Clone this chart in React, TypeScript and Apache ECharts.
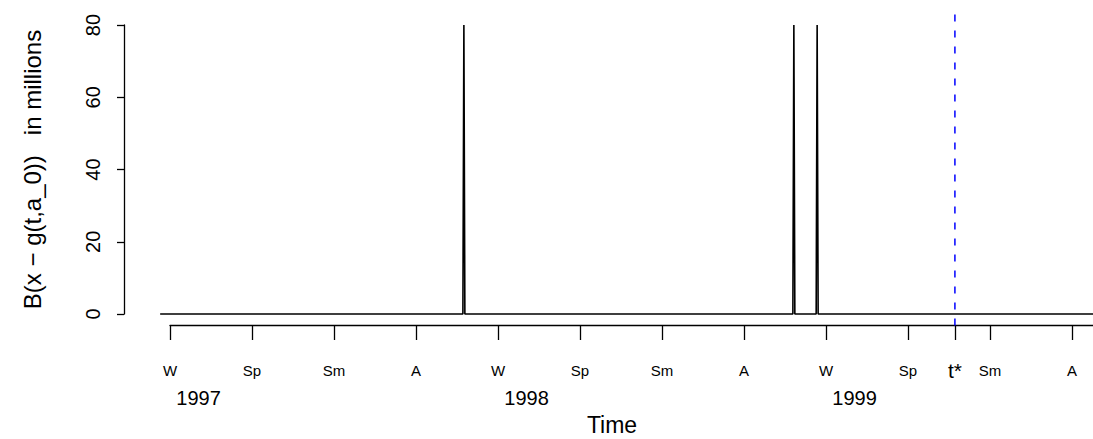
import React, { useEffect, useRef } from "react";
import * as echarts from "echarts";

// time (decimal years) and series values
const times = [1996.97, 1997.893, 1997.896, 1997.899, 1998.899, 1998.902, 1998.905, 1998.970, 1998.973, 1998.976, 1999.83];
const values = [0, 0, 80, 0, 0, 80, 0, 0, 80, 0, 0];

// season ticks
const seasonTicks = [1997, 1997.25, 1997.5, 1997.75, 1998, 1998.25, 1998.5, 1998.75, 1999, 1999.25, 1999.5, 1999.75];
const seasonLabels = ["W", "Sp", "Sm", "A", "W", "Sp", "Sm", "A", "W", "Sp", "Sm", "A"];
const tStar = 1999.393;
const yearPositions = [1997.087, 1998.087, 1999.087];
const yearLabels = ["1997", "1998", "1999"];

const yTicks = [0, 20, 40, 60, 80];
const yMin = 0;
const yMax = 80;
const plotXMin = 1996.8598;
const xMin = 1997.0;
const xMax = 1999.814;

const FONT = "Liberation Sans, Arial, sans-serif";

export default function App() {
  const ref = useRef<HTMLDivElement>(null);
  useEffect(() => {
    if (!ref.current) return;
    const chart = echarts.init(ref.current, undefined, { renderer: "svg" });
    const pad = (yMax - yMin) * 0.04;
    const tickVals = [...seasonTicks, tStar].sort((a, b) => a - b);
    const fmtTick = (v: number) => {
      if (Math.abs(v - tStar) < 1e-6) return "{big|t*}";
      const i = seasonTicks.findIndex((s) => Math.abs(s - v) < 1e-6);
      return i >= 0 ? "{s|" + seasonLabels[i] + "}" : "";
    };
    const fmtYear = (v: number) => {
      const i = yearPositions.findIndex((s) => Math.abs(s - v) < 1e-6);
      return i >= 0 ? yearLabels[i] : "";
    };
    chart.setOption({
      animation: false,
      backgroundColor: "#ffffff",
      grid: [
        { left: 124, right: 0, top: 25, bottom: 125, containLabel: false },
        { left: 170, right: 0, top: 25, bottom: 125, containLabel: false },
      ],
      xAxis: [
        {
          type: "value",
          gridIndex: 0,
          min: plotXMin,
          max: xMax,
          axisLine: { show: false },
          axisTick: { show: false },
          axisLabel: { show: false },
          splitLine: { show: false },
        },
        {
          type: "value",
          gridIndex: 1,
          min: xMin,
          max: xMax,
          offset: 11,
          axisLine: { show: true, onZero: false, lineStyle: { color: "#000", width: 1.3 } },
          axisTick: { show: true, length: 15, customValues: tickVals, lineStyle: { color: "#000", width: 1.3 } },
          axisLabel: {
            customValues: tickVals,
            formatter: fmtTick,
            margin: 38,
            color: "#000",
            fontFamily: FONT,
            rich: {
              s: { fontSize: 15, lineHeight: 15, fontFamily: FONT, color: "#000" },
              big: { fontSize: 21, lineHeight: 15, fontFamily: FONT, color: "#000" },
            },
          },
          splitLine: { show: false },
        },
        {
          type: "value",
          gridIndex: 1,
          min: xMin,
          max: xMax,
          position: "bottom",
          offset: 11,
          axisLine: { show: false, onZero: false },
          axisTick: { show: false },
          axisLabel: {
            customValues: yearPositions,
            formatter: fmtYear,
            margin: 63,
            fontSize: 20,
            color: "#000",
            fontFamily: FONT,
          },
          splitLine: { show: false },
        },
      ],
      yAxis: [
        {
          type: "value",
          gridIndex: 0,
          min: yMin,
          max: yMax,
          interval: 20,
          axisLine: { show: true, onZero: false, lineStyle: { color: "#000", width: 1.3 } },
          axisTick: { show: true, length: 7, lineStyle: { color: "#000", width: 1.3 } },
          axisLabel: {
            rotate: 90,
            fontSize: 20,
            margin: 21,
            color: "#000",
            fontFamily: FONT,
            formatter: (v: number) => (yTicks.includes(v) ? String(v) : ""),
          },
          splitLine: { show: false },
          name: "B(x − g(t,a_0))   in millions",
          nameLocation: "middle",
          nameRotate: 90,
          nameGap: 80,
          nameTextStyle: { fontSize: 24, color: "#000", fontFamily: FONT },
        },
        {
          type: "value",
          gridIndex: 1,
          min: yMin,
          max: yMax,
          show: false,
        },
      ],
      graphic: [
        {
          type: "text",
          x: 612,
          y: 425,
          style: { text: "Time", fontSize: 23, fontFamily: FONT, fill: "#000", align: "center", verticalAlign: "middle" },
        },
      ],
      series: [
        {
          type: "line",
          xAxisIndex: 0,
          yAxisIndex: 0,
          data: times.map((t, i) => [t, values[i]]),
          showSymbol: false,
          clip: false,
          lineStyle: { color: "#000", width: 1.6 },
        },
        {
          type: "line",
          xAxisIndex: 1,
          yAxisIndex: 1,
          data: [
            [tStar, yMin - pad],
            [tStar, yMax + pad],
          ],
          showSymbol: false,
          clip: false,
          lineStyle: { color: "#0000ff", width: 1.5, type: [7, 9] },
        },
      ],
    });
    return () => chart.dispose();
  }, []);
  return <div ref={ref} style={{ position: "absolute", left: 0, top: 0, width: 1093, height: 439 }} />;
}
